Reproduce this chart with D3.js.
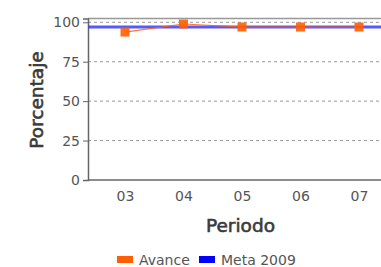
<!DOCTYPE html>
<html><head><meta charset="utf-8">
<script src="https://cdn.jsdelivr.net/npm/d3@7"></script>
<style>body{margin:0;background:#fff;}svg{display:block;font-family:"DejaVu Sans",sans-serif;}</style>
</head><body>
<svg id="c" width="381" height="267"></svg>
<script>
const categories = ["03","04","05","06","07"];
const avance = [93.8, 98.9, 97, 97, 97];
const meta = 97;
const yTicks = [0,25,50,75,100];
const seriesNames = ["Avance","Meta 2009"];
const colors = ["#ff5f00","#0000ff"];

(function(){
const svg = d3.select("#c");
const mLeft = 88, mTop = 18.5, mBottom = 180, mRight = 400;
const x = d3.scalePoint().domain(categories).range([125, 359]);
const y = d3.scaleLinear().domain([0, 102.4]).range([mBottom, mTop]);

// grid
svg.append("g").selectAll("line").data(yTicks.filter(d=>d>0)).join("line")
  .attr("x1", mLeft).attr("x2", mRight).attr("y1", d=>y(d)).attr("y2", d=>y(d))
  .attr("stroke","#999").attr("stroke-dasharray","3,3").attr("stroke-width",1);
// top border
svg.append("line").attr("x1",mLeft).attr("x2",mRight).attr("y1",mTop).attr("y2",mTop)
  .attr("stroke","#999").attr("stroke-width",1.5);

// y axis
const ya = svg.append("g").attr("transform",`translate(${mLeft},0)`)
  .call(d3.axisLeft(y).tickValues(yTicks).tickSize(5).tickPadding(3));
ya.select(".domain").attr("stroke","#666").attr("stroke-width",1.5);
ya.selectAll(".tick line").attr("stroke","#666");
ya.selectAll("text").attr("fill","#555").attr("font-size",14).attr("font-family","DejaVu Sans");

// x axis
const xa = svg.append("g").attr("transform",`translate(0,${mBottom})`)
  .call(d3.axisBottom(x).tickSize(0).tickPadding(9));
xa.select(".domain").remove();
xa.append("line").attr("x1",mLeft).attr("x2",mRight).attr("stroke","#666").attr("stroke-width",1.5);
xa.selectAll("text").attr("fill","#555").attr("font-size",14).attr("font-family","DejaVu Sans")
  .attr("y",21).attr("dy","0");

// meta line
svg.append("line").attr("x1",mLeft).attr("x2",mRight).attr("y1",y(meta)).attr("y2",y(meta))
  .attr("stroke","#3c3cff").attr("stroke-width",3).attr("opacity",0.85);

// avance line
svg.append("path").datum(avance)
  .attr("d", d3.line().x((d,i)=>x(categories[i])).y(d=>y(d)))
  .attr("fill","none").attr("stroke",colors[0]).attr("stroke-width",1.2).attr("opacity",0.85);
svg.append("g").selectAll("rect").data(avance).join("rect")
  .attr("x",(d,i)=>x(categories[i])-4.5).attr("y",d=>y(d)-4.5)
  .attr("width",9).attr("height",9).attr("fill",colors[0]).attr("opacity",0.9);

// axis titles
svg.append("text").attr("x",240.5).attr("y",232).attr("text-anchor","middle")
  .attr("font-size",18.5).attr("fill","#3a3a3a").attr("stroke","#3a3a3a").attr("stroke-width",0.6)
  .text("Periodo");
svg.append("text").attr("transform","translate(43,100) rotate(-90)").attr("text-anchor","middle")
  .attr("font-size",18.5).attr("fill","#3a3a3a").attr("stroke","#3a3a3a").attr("stroke-width",0.6)
  .text("Porcentaje");

// legend
const lg = svg.append("g").attr("transform","translate(0,265)");
const items = [{n:seriesNames[0],c:colors[0],x:117},{n:seriesNames[1],c:colors[1],x:199}];
items.forEach(it=>{
  lg.append("rect").attr("x",it.x).attr("y",-9).attr("width",16).attr("height",7).attr("fill",it.c);
  lg.append("text").attr("x",it.x+22).attr("y",0).attr("font-size",14).attr("fill","#555").text(it.n);
});
})();
</script>
</body></html>
